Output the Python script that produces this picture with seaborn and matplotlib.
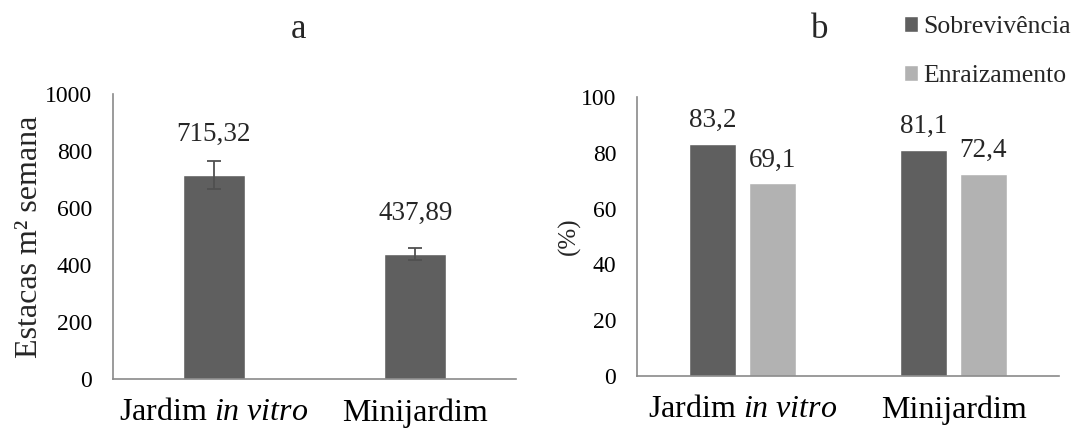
import matplotlib
matplotlib.use("Agg")
import matplotlib.pyplot as plt
import seaborn as sns
import pandas as pd

# ---- data ----
categories = ["Jardim $\\mathit{in\\ vitro}$", "Minijardim"]
cuttings = [715.32, 437.89]
cuttings_err = [50, 22]

series = ["Sobrevivência", "Enraizamento"]
survival = [83.2, 81.1]
rooting = [69.1, 72.4]

dark = "#5f5f5f"
light = "#b2b2b2"
spine_col = "#8a8a8a"

sns.set_theme(style="white")
plt.rcParams["font.family"] = ["Liberation Serif", "DejaVu Serif"]
plt.rcParams["mathtext.fontset"] = "custom"
plt.rcParams["mathtext.rm"] = "Liberation Serif"
plt.rcParams["mathtext.it"] = "Liberation Serif:italic"

W, H = 1081, 432
fig = plt.figure(figsize=(W / 100, H / 100), dpi=100)


def px_axes(x0, y0, x1, y1):
    return fig.add_axes([x0 / W, 1 - y1 / H, (x1 - x0) / W, (y1 - y0) / H])


def style(ax):
    for s in ["top", "right"]:
        ax.spines[s].set_visible(False)
    for s in ["left", "bottom"]:
        ax.spines[s].set_color(spine_col)
        ax.spines[s].set_linewidth(1.2)
    ax.tick_params(axis="both", length=0, colors="black")
    ax.tick_params(axis="y", labelsize=17, pad=15)
    ax.tick_params(axis="x", labelsize=23, pad=14)
    ax.set_xlabel("")


def fmt(v, nd):
    return f"{v:.{nd}f}".replace(".", ",")


# ---- panel a ----
ax1 = px_axes(113, 94, 516, 379)
df1 = pd.DataFrame({"cat": categories, "val": cuttings})
sns.barplot(data=df1, x="cat", y="val", color=dark, width=0.31,
            saturation=1, ax=ax1, errorbar=None)
ax1.errorbar(range(len(cuttings)), cuttings, yerr=cuttings_err, fmt="none",
             ecolor="#505050", elinewidth=1.3, capsize=5, capthick=1.3)
ax1.set_ylim(0, 1000)
ax1.set_yticks(range(0, 1001, 200))
ax1.set_xlim(-0.5, 1.5)
ax1.set_ylabel("Estacas m² semana", fontsize=23, labelpad=1)
style(ax1)
for i, v in enumerate(cuttings):
    ax1.annotate(fmt(v, 2), (i, v), xytext=(0, 25), textcoords="offset points",
                 ha="center", va="baseline", fontsize=19.5)

# ---- panel b ----
ax2 = px_axes(637, 97, 1059, 376)
df2 = pd.DataFrame({
    "cat": categories * 2,
    "serie": [series[0]] * 2 + [series[1]] * 2,
    "val": survival + rooting,
})
sns.barplot(data=df2, x="cat", y="val", hue="serie", hue_order=series,
            palette=[dark, light], width=0.566, gap=0.215, saturation=1,
            ax=ax2, errorbar=None)
ax2.set_ylim(0, 100)
ax2.set_yticks(range(0, 101, 20))
ax2.set_xlim(-0.5, 1.5)
ax2.set_ylabel("(%)", fontsize=18, labelpad=0)
style(ax2)
for cont in ax2.containers:
    for bar in cont:
        h = bar.get_height()
        ax2.annotate(fmt(h, 1), (bar.get_x() + bar.get_width() / 2, h),
                     xytext=(0, 12), textcoords="offset points",
                     ha="center", va="baseline", fontsize=19.5)

handles, labels = ax2.get_legend_handles_labels()
ax2.get_legend().remove()
fig.legend(handles, labels, loc="upper left", bbox_to_anchor=(904 / W, 1 - 16 / H),
           frameon=False, fontsize=18.5, handlelength=0.55, handleheight=0.55,
           handletextpad=0.2, labelspacing=1.05, borderaxespad=0, borderpad=0)

# ---- panel titles ----
fig.text(298 / W, 1 - 30 / H, "a", ha="center", va="center", fontsize=25)
fig.text(820 / W, 1 - 30 / H, "b", ha="center", va="center", fontsize=25)

fig.savefig("out.png", dpi=100)
